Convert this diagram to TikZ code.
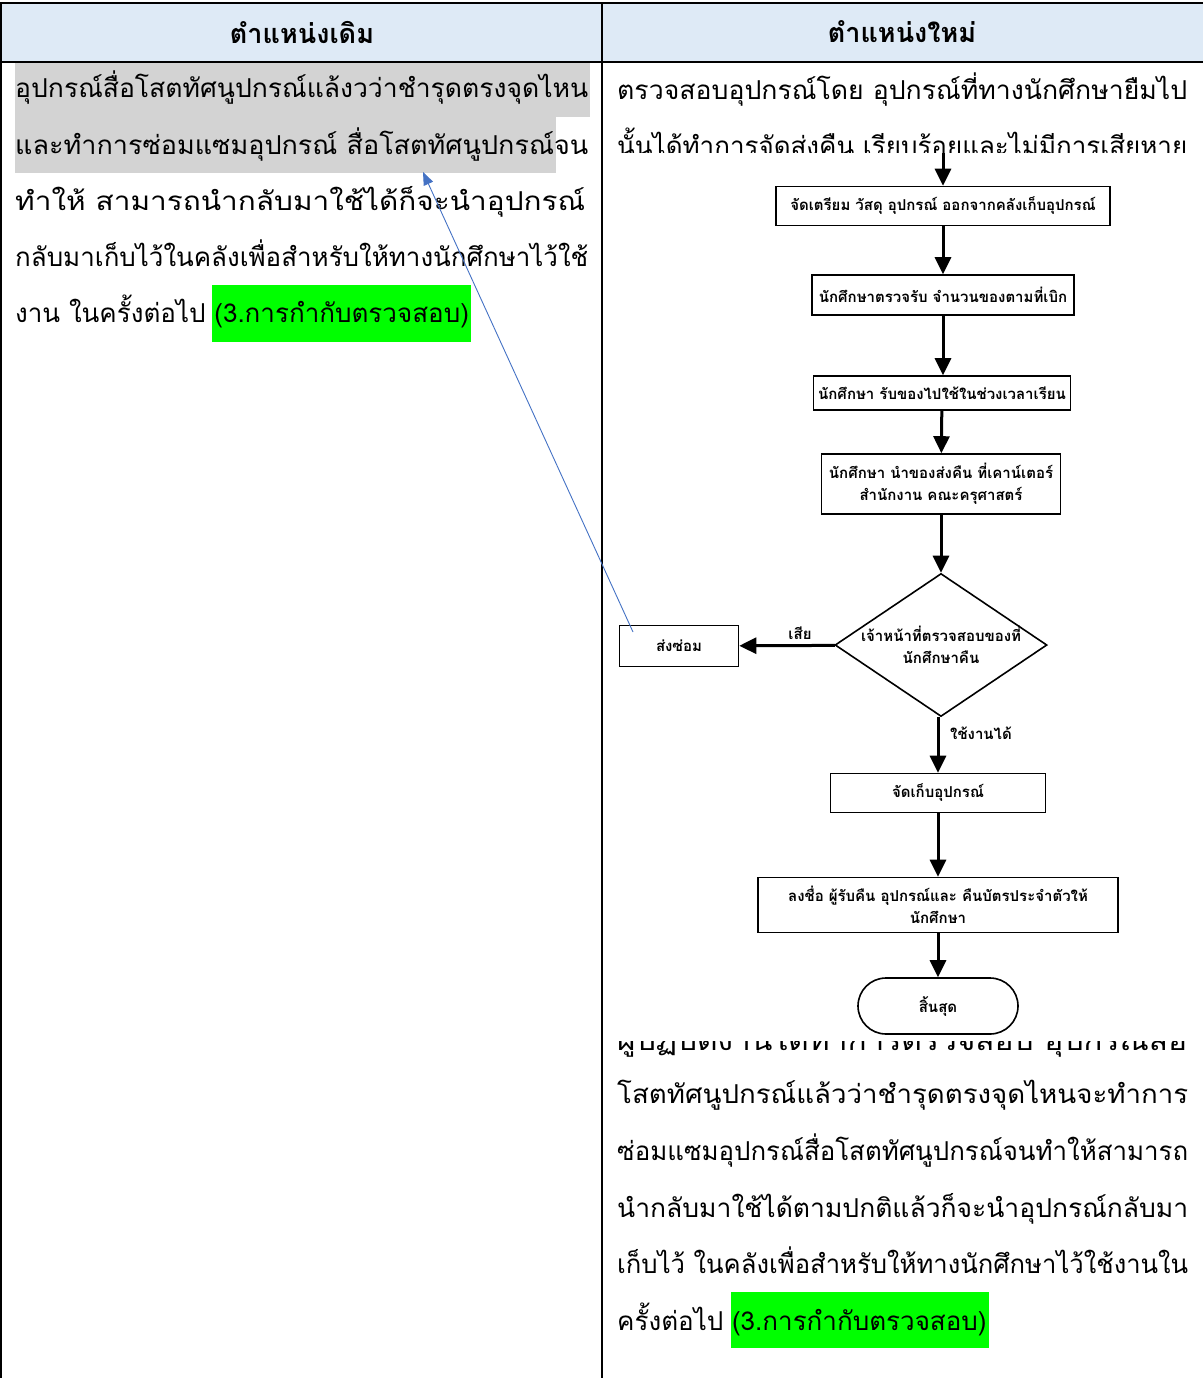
\documentclass[tikz,border=0pt]{standalone}
\usepackage{fontspec}
\setmainfont[Script=Thai]{Loma}
\usepackage{graphicx}
\usepackage{tikz}
\usetikzlibrary{arrows.meta,shapes.geometric}
\definecolor{headblue}{HTML}{DEEAF6}
\definecolor{markgray}{HTML}{D3D3D3}
\definecolor{markgreen}{HTML}{00FF00}
\definecolor{linkblue}{HTML}{4472C4}
\newcommand\fitline[2]{\resizebox{#1}{\height}{#2}}

\begin{document}
\begin{tikzpicture}[x=1pt,y=-1pt,
    body/.style={anchor=base west,inner sep=0pt,font=\fontsize{26}{26}\selectfont},
    head/.style={inner sep=0pt,font=\fontsize{27}{27}\selectfont\bfseries},
    box/.style={shape=rectangle,draw=black,line width=1.6pt,inner sep=0pt,align=center,font=\fontsize{15}{22}\selectfont\bfseries},
    flow/.style={line width=3pt,-{Triangle[length=17pt,width=16pt]}},
    tag/.style={inner sep=0pt,font=\fontsize{15}{15}\selectfont\bfseries}]
                \useasboundingbox(0,0)rectangle(1203,1378);
                % table
                \fill[headblue](1,3)rectangle(1203,62);
                \fill[markgray](15,62)rectangle(590,117);
                \fill[markgray](15,117)rectangle(556,173);
                \fill[markgreen](212,285)rectangle(471,342);
                \fill[markgreen](731,1292)rectangle(989,1348);
                \draw[line width=2.5pt](0,3)--(1203,3);
                \draw[line width=2.5pt](0,62)--(1203,62);
                \draw[line width=2pt](1,3)--(1,1378);
                \draw[line width=2pt](602,3)--(602,1378);
                \node[head](Old)at(302,32){ตำแหน่งเดิม};
                \node[head](New)at(902,32){ตำแหน่งใหม่};

                % left column
                \node[body](L1)at(15,98){\fitline{573pt}{อุปกรณ์สื่อโสตทัศนูปกรณ์แล้งวว่าชำรุดตรงจุดไหน}};
                \node[body](L2)at(15,154){\fitline{573pt}{และทำการซ่อมแซมอุปกรณ์ สื่อโสตทัศนูปกรณ์จน}};
                \node[body](L3)at(15,210){\fitline{570pt}{ทำให้ สามารถนำกลับมาใช้ได้ก็จะนำอุปกรณ์}};
                \node[body](L4)at(15,266){\fitline{573pt}{กลับมาเก็บไว้ในคลังเพื่อสำหรับให้ทางนักศึกษาไว้ใช้}};
                \node[body](L5)at(15,322){งาน ในครั้งต่อไป (3.การกำกับตรวจสอบ)};

                % right column
                \node[body](R1)at(617,100){\fitline{570pt}{ตรวจสอบอุปกรณ์โดย อุปกรณ์ที่ทางนักศึกษายืมไป}};
                \node[body](R2)at(617,155){\fitline{570pt}{นั้นได้ทำการจัดส่งคืน เรียบร้อยและไม่มีการเสียหาย}};
                \node[body](R3)at(617,1050){\fitline{570pt}{ผู้ปฏิบัติงานได้ทำการตรวจสอบ อุปกรณ์สื่อ}};
                \node[body](R4)at(617,1103){\fitline{571pt}{โสตทัศนูปกรณ์แล้วว่าชำรุดตรงจุดไหนจะทำการ}};
                \node[body](R5)at(617,1160){\fitline{571pt}{ซ่อมแซมอุปกรณ์สื่อโสตทัศนูปกรณ์จนทำให้สามารถ}};
                \node[body](R6)at(617,1217){\fitline{571pt}{นำกลับมาใช้ได้ตามปกติแล้วก็จะนำอุปกรณ์กลับมา}};
                \node[body](R7)at(617,1273){\fitline{571pt}{เก็บไว้ ในคลังเพื่อสำหรับให้ทางนักศึกษาไว้ใช้งานใน}};
                \node[body](R8)at(617,1330){ครั้งต่อไป (3.การกำกับตรวจสอบ)};

                % flowchart picture
                \fill[white](617,153)rectangle(1203,1041);
                \coordinate(Top)at(943,153);
                \node[box,minimum width=334pt,minimum height=39pt](1)at(943,206){จัดเตรียม วัสดุ อุปกรณ์ ออกจากคลังเก็บอุปกรณ์};
                \node[box,minimum width=262pt,minimum height=40pt](2)at(943,295){นักศึกษาตรวจรับ จำนวนของตามที่เบิก};
                \node[box,minimum width=257pt,minimum height=34pt](3)at(942,393){นักศึกษา รับของไปใช้ในช่วงเวลาเรียน};
                \node[box,minimum width=239pt,minimum height=60pt](4)at(941,484){นักศึกษา นำของส่งคืน ที่เคาน์เตอร์\\สำนักงาน คณะครุศาสตร์};
                \node[box,shape=diamond,minimum width=212pt,minimum height=143pt](5)at(941,645){\makebox[0pt]{เจ้าหน้าที่ตรวจสอบของที่}\\\makebox[0pt]{นักศึกษาคืน}};
                \node[box,minimum width=119pt,minimum height=41pt](Repair)at(679,646){ส่งซ่อม};
                \node[box,minimum width=215pt,minimum height=39pt](6)at(938,793){จัดเก็บอุปกรณ์};
                \node[box,minimum width=360pt,minimum height=55pt](7)at(938,905){ลงชื่อ ผู้รับคืน อุปกรณ์และ คืนบัตรประจำตัวให้\\นักศึกษา};
                \node[box,rounded corners=28pt,minimum width=160pt,minimum height=56pt](End)at(938,1006){สิ้นสุด};
                \node[tag](Bad)at(800,633){เสีย};
                \node[tag](Good)at(981,733){ใช้งานได้};
                \path[flow](Top) edge (1)
                (1) edge (2)
                (2) edge (2 |- 3.north)
                (3) edge (4)
                (4) edge (5)
                (5) edge (Repair)
                (5.south -| 6) edge (6)
                (6) edge (7)
                (7) edge (End);

                % link back to the old text
                \coordinate(RepairPin)at(633,632);
                \coordinate(OldText)at(423,172);
                \draw[linkblue,line width=0.9pt,-{Triangle[length=13pt,width=10pt]}](RepairPin)--(OldText);
            \end{tikzpicture}
\end{document}
